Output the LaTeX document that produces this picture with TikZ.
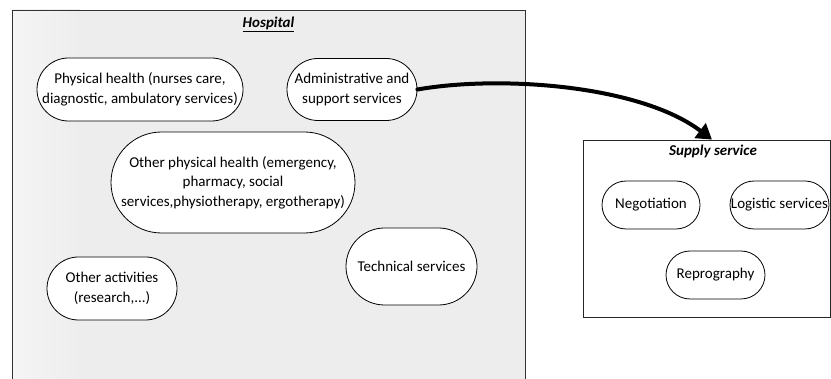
\documentclass[tikz,border=0pt]{standalone}
\usepackage{fontspec}
\setmainfont{Carlito}
\usetikzlibrary{shapes.misc,arrows.meta}
\begin{document}
\begin{tikzpicture}[x=1pt,y=-1pt,
  pill/.style={draw, line width=0.8pt, fill=white, rounded rectangle, align=center,
    inner sep=1pt, font=\fontsize{15}{19.5}\selectfont},
  titletext/.style={font=\fontsize{15}{19.5}\selectfont\bfseries\itshape}]
\useasboundingbox (0,0) rectangle (831,379);
% Hospital area
\fill[black!7] (12,10) rectangle (525,379);
\shade[left color=black!4, right color=black!7] (12,10) rectangle (80,379);
\draw[line width=0.8pt, black!80] (12,379) -- (12,10) -- (525,10) -- (525,379);
\node[titletext] (hosp) at (268.5,24) {\underline{Hospital}};
% Supply service box
\node[draw, line width=0.8pt, black!85, minimum width=247pt, minimum height=177pt, inner sep=0pt] (supply) at (707,228.5) {};
\node[titletext] (suptitle) at (713,151) {Supply service};
% hospital nodes
\node[pill, minimum width=208pt, minimum height=63pt] (phys) at (140,89.5) {Physical health (nurses care,\\diagnostic, ambulatory services)};
\node[pill, minimum width=132pt, minimum height=62pt] (admin) at (352,89.5) {Administrative and\\support services};
\node[pill, minimum width=246pt, minimum height=101pt] (other) at (233,182.5) {Other physical health (emergency,\\pharmacy, social\\services,physiotherapy, ergotherapy)};
\node[pill, minimum width=132pt, minimum height=63pt] (act) at (112,288.5) {Other activities\\(research,...)};
\node[pill, minimum width=133pt, minimum height=77pt] (tech) at (411.5,266.5) {Technical services};
% supply nodes
\node[pill, minimum width=100pt, minimum height=48pt] (neg) at (651,205) {Negotiation};
\node[pill, minimum width=101pt, minimum height=48pt] (log) at (779.5,205) {Logistic services};
\node[pill, minimum width=101pt, minimum height=48pt] (rep) at (715.5,275) {Reprography};
% arrow
\coordinate (tip) at ([xshift=5pt]supply.north);
\draw[line width=4pt, line cap=round, -{Triangle[length=15pt,width=18pt]}] (admin.east) .. controls (500,75) and (640,85) .. (tip);
\end{tikzpicture}
\end{document}
